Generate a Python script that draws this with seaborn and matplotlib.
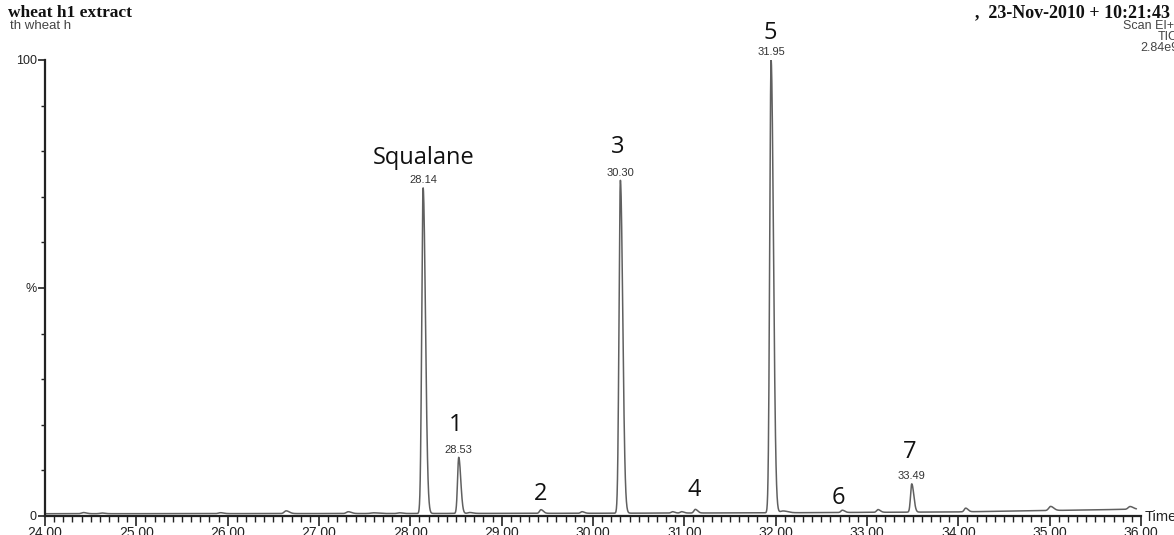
import numpy as np
import pandas as pd
import matplotlib
matplotlib.use("Agg")
import matplotlib.pyplot as plt
import seaborn as sns
from matplotlib.ticker import MultipleLocator, FixedLocator

# ---- data ----
peak_rt = [24.42, 24.62, 25.92, 26.64, 27.32, 27.60, 27.88, 28.14, 28.53, 28.65,
           29.43, 29.88, 30.30, 30.87, 30.97, 31.12, 31.95, 32.08, 32.73, 33.12,
           33.49, 34.08, 35.01, 35.88]
peak_height = [0.25, 0.15, 0.2, 0.6, 0.4, 0.15, 0.15, 71.4, 12.3, 0.2,
               0.8, 0.35, 73.0, 0.3, 0.3, 0.8, 99.3, 0.4, 0.5, 0.6,
               6.2, 0.8, 0.9, 0.6]
peak_sigma = [0.02, 0.02, 0.02, 0.02, 0.02, 0.03, 0.02, 0.015, 0.013, 0.02,
              0.015, 0.015, 0.015, 0.015, 0.015, 0.015, 0.015, 0.03, 0.015, 0.015,
              0.013, 0.015, 0.02, 0.02]
baseline_t = [24.0, 28.0, 30.0, 32.0, 34.0, 35.0, 35.95]
baseline_v = [0.5, 0.55, 0.6, 0.7, 0.9, 1.2, 1.5]

labelled_rt = [28.14, 28.53, 30.30, 31.95, 33.49]
labelled_h = [72.0, 12.7, 73.6, 100.0, 7.0]
labelled_txt = ["28.14", "28.53", "30.30", "31.95", "33.49"]

compound_names = ["Squalane", "1", "2", "3", "4", "5", "6", "7"]
compound_x = [28.15, 28.50, 29.43, 30.27, 31.11, 31.94, 32.69, 33.47]
compound_y = [78.5, 20.0, 4.8, 81.0, 5.7, 106.0, 3.9, 14.0]

x_major = [24, 25, 26, 27, 28, 29, 30, 31, 32, 33, 34, 35, 36]
x_labels = ["24.00", "25.00", "26.00", "27.00", "28.00", "29.00", "30.00",
            "31.00", "32.00", "33.00", "34.00", "35.00", "36.00"]

# ---- build trace ----
t = np.arange(24.0, 35.95, 0.002)
signal = np.interp(t, baseline_t, baseline_v)
for rt, h, s in zip(peak_rt, peak_height, peak_sigma):
    sig = np.where(t < rt, s, s * 1.7)
    signal = signal + h * np.exp(-0.5 * ((t - rt) / sig) ** 2)
df = pd.DataFrame({"Time": t, "Intensity": signal})

sns.set_style("ticks")
plt.rcParams["font.family"] = ["Liberation Sans", "DejaVu Sans"]

W, H = 1174, 535
fig = plt.figure(figsize=(W / 100, H / 100), dpi=100)
ax = fig.add_axes([45 / W, 19 / H, (1141 - 45) / W, (516 - 60) / H])

sns.lineplot(data=df, x="Time", y="Intensity", ax=ax, color="#606060",
             linewidth=1.1, estimator=None, sort=False)

ax.set_xlim(24, 36)
ax.set_ylim(0, 100)
ax.set_xlabel("")
ax.set_ylabel("")
for sp in ["top", "right"]:
    ax.spines[sp].set_visible(False)
for sp in ["left", "bottom"]:
    ax.spines[sp].set_linewidth(1.6)
    ax.spines[sp].set_color("#222222")

ax.xaxis.set_major_locator(FixedLocator(x_major))
ax.set_xticklabels(x_labels)
ax.xaxis.set_minor_locator(MultipleLocator(0.1))
ax.tick_params(axis="x", which="major", length=7, width=1.2, color="#222222",
               labelsize=10, pad=0, labelcolor="#222222")
ax.tick_params(axis="x", which="minor", length=4, width=1.0, color="#222222")
ax.yaxis.set_major_locator(FixedLocator([0, 50, 100]))
ax.set_yticklabels(["0", "%", "100"])
ax.yaxis.set_minor_locator(MultipleLocator(10))
ax.tick_params(axis="y", which="major", length=5, width=1.2, color="#222222",
               labelsize=9, pad=1, labelcolor="#222222")
ax.tick_params(axis="y", which="minor", length=3, width=1.0, color="#222222")

for rt, h, txt in zip(labelled_rt, labelled_h, labelled_txt):
    ax.annotate(txt, (rt, h), xytext=(0, 2), textcoords="offset points",
                ha="center", va="bottom", fontsize=8, color="#333333",
                annotation_clip=False)

for name, x, y in zip(compound_names, compound_x, compound_y):
    ax.text(x, y, name, ha="center", va="center", fontsize=17, color="#111111",
            family=["Open Sans", "DejaVu Sans"], clip_on=False)

# header texts
fig.text(8 / W, 1 - 13 / H, "wheat h1 extract", family=["Liberation Serif"],
         fontweight="bold", fontsize=12.5, ha="left", va="center", color="#111111")
fig.text(10 / W, 1 - 26 / H, "th wheat h", fontsize=9.5, ha="left", va="center",
         color="#444444")
fig.text(975 / W, 1 - 13 / H, ",  23-Nov-2010 + 10:21:43", family=["Liberation Serif"],
         fontweight="bold", fontsize=13, ha="left", va="center", color="#111111")
fig.text(1174 / W, 1 - 26 / H, "Scan EI+", fontsize=9, ha="right", va="center",
         color="#444444")
fig.text(1178 / W, 1 - 37 / H, "TIC", fontsize=9, ha="right", va="center",
         color="#444444")
fig.text(1178 / W, 1 - 48 / H, "2.84e9", fontsize=9, ha="right", va="center",
         color="#444444")
fig.text(1145 / W, 1 - 517 / H, "Time", fontsize=10.5, ha="left", va="center",
         color="#222222")

fig.savefig("out.png", dpi=100)
